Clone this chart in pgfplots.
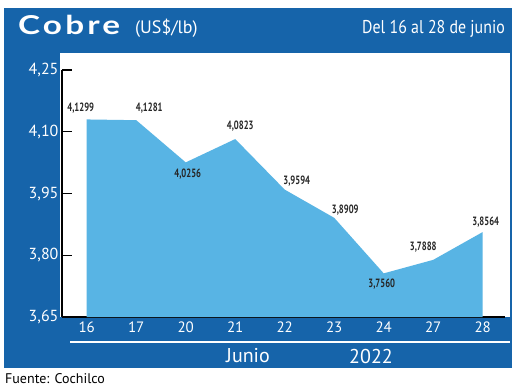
\documentclass[border=0pt]{standalone}
\usepackage{fontspec}
\setmainfont{PT Sans}
\newfontfamily\condfont[FakeStretch=0.72]{PT Sans}
\newfontfamily\headfont[FakeStretch=0.86]{PT Sans}
\newfontfamily\titlefont[FakeStretch=1.28, LetterSpace=12]{Lato}
\usepackage{pgfplots}
\usepackage{pgfplotstable}
\pgfplotsset{compat=1.18}
\definecolor{frameblue}{RGB}{22,100,170}
\definecolor{areablue}{RGB}{88,180,228}

\pgfplotstableread{
x y dx dy lab
0 4.1299 -6 11 4,1299
1 4.1281 13 12 4,1281
2 4.0256 2 -12 4,0256
3 4.0823 5 13 4,0823
4 3.9594 12 9 3,9594
5 3.8909 11 8 3,8909
6 3.7560 -2 -11 3,7560
7 3.7888 -10 13 3,7888
8 3.8564 3 10 3,8564
}\cobre

\begin{document}
\begin{tikzpicture}[x=1pt,y=1pt]
\path[use as bounding box] (0,0) rectangle (520,389);
\fill[frameblue] (4,21) rectangle (512,381);
\fill[white] (60,72) rectangle (510,336);
\begin{axis}[
  at={(62pt,72pt)}, anchor=south west,
  scale only axis, width=443pt, height=247pt,
  xmin=-0.5, xmax=8.45, ymin=3.65, ymax=4.25,
  axis x line=bottom, axis y line=left,
  axis line style={-, line width=1.4pt, black},
  ytick={3.65,3.80,3.95,4.10,4.25},
  xtick={0,...,8},
  xticklabels={16,17,20,21,22,23,24,27,28},
  major x tick style={draw=none},
  ytick style={line width=1.4pt, black},
  major tick length=10pt,
  tick align=inside,
  yticklabel style={white, font=\fontsize{16}{16}\selectfont,
    /pgf/number format/.cd, fixed, fixed zerofill, precision=2, use comma, assume math mode=true},
  xticklabel style={white, font=\fontsize{15}{15}\selectfont, yshift=-1pt},
  clip=false,
]
\addplot[fill=areablue, draw=none] table[x=x, y=y] {\cobre} \closedcycle;
\addplot[draw=none, mark=none,
  point meta=explicit symbolic,
  visualization depends on={\thisrow{dx}\as\dx},
  visualization depends on={\thisrow{dy}\as\dy},
  nodes near coords,
  nodes near coords style={anchor=center, xshift=\dx pt, yshift=\dy pt,
    font=\condfont\bfseries\fontsize{12}{12}\selectfont, text=black!85, inner sep=0pt},
] table[x=x, y=y, meta=lab] {\cobre};
\end{axis}
\draw[white, line width=1.5pt] (70,47) -- (510,47);
\node[white, font=\fontsize{20}{20}\selectfont] at (248,33) {Junio};
\node[white, font=\fontsize{20}{20}\selectfont] at (371,33) {2022};
\node[white, anchor=base west, inner sep=0pt, font=\titlefont\bfseries\fontsize{26}{26}\selectfont] at (18,354) {Cobre};
\node[white, anchor=base west, inner sep=0pt, font=\fontsize{18}{18}\selectfont] at (135,355) {(US\$/lb)};
\node[white, anchor=base east, inner sep=0pt, font=\headfont\fontsize{18.5}{18.5}\selectfont] at (505,355) {Del 16 al 28 de junio};
\node[black, anchor=base west, inner sep=0pt, font=\fontsize{14}{14}\selectfont] at (5,6) {Fuente: Cochilco};
\end{tikzpicture}
\end{document}
